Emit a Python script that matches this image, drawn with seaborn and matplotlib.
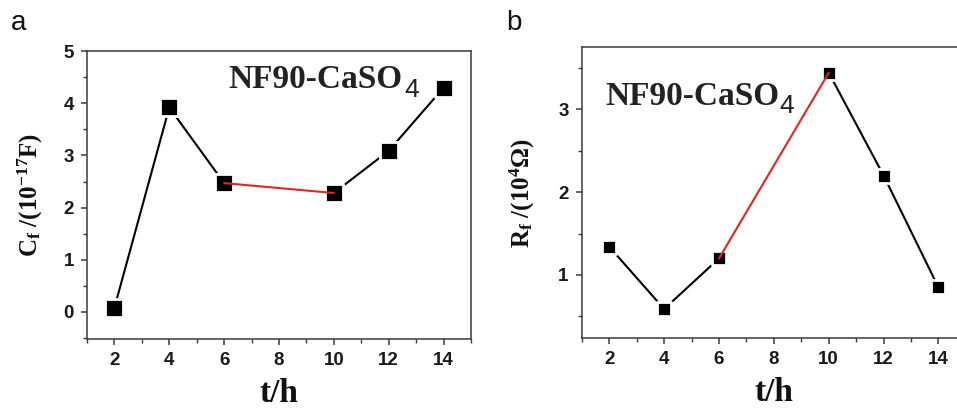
import matplotlib
matplotlib.use("Agg")
import matplotlib.pyplot as plt
import seaborn as sns
import pandas as pd
from matplotlib.ticker import MultipleLocator

# ---- data ----
hours = [2, 4, 6, 10, 12, 14]
cf_values = [0.08, 3.92, 2.47, 2.28, 3.09, 4.30]   # C_f /(10^-17 F)
rf_values = [1.34, 0.59, 1.20, 3.44, 2.20, 0.85]   # R_f /(10^4 Ohm)
x_ticks = [2, 4, 6, 8, 10, 12, 14]
sample_label = "NF90-CaSO"
red_segment = (6, 10)

sns.set_theme(style="ticks")
plt.rcParams["font.family"] = ["Liberation Sans", "DejaVu Sans"]
plt.rcParams["mathtext.fontset"] = "custom"
plt.rcParams["mathtext.rm"] = "Liberation Serif:bold"
plt.rcParams["mathtext.it"] = "Liberation Serif:bold"
plt.rcParams["mathtext.bf"] = "Liberation Serif:bold"

SPINE = "#3a3a3a"


def make_df(values):
    rows = []
    for i in range(len(hours) - 1):
        x0, x1 = hours[i], hours[i + 1]
        col = "red" if (x0, x1) == red_segment else "black"
        for x, y in ((x0, values[i]), (x1, values[i + 1])):
            rows.append({"t": x, "v": y, "seg": i, "col": col})
    return pd.DataFrame(rows)


def draw(ax, values, msize):
    df = make_df(values)
    blk = df[df.col == "black"]
    red = df[df.col == "red"]
    sns.lineplot(data=blk, x="t", y="v", units="seg", estimator=None, sort=False,
                 color="black", lw=1.5, ax=ax, legend=False, zorder=2)
    pts = pd.DataFrame({"t": hours, "v": values})
    sns.scatterplot(data=pts, x="t", y="v", marker="s", s=msize ** 2, color="black",
                    edgecolor="white", linewidth=2.0, ax=ax, legend=False, zorder=3)
    sns.lineplot(data=red, x="t", y="v", units="seg", estimator=None, sort=False,
                 color="#e8231c", lw=1.5, ax=ax, legend=False, zorder=4)
    ax.set_xlim(1, 15)
    ax.set_xticks(x_ticks)
    ax.xaxis.set_minor_locator(MultipleLocator(1))
    for s in ax.spines.values():
        s.set_color(SPINE)
        s.set_linewidth(1.1)
    ax.tick_params(which="major", direction="out", length=4.5, width=1.1, color=SPINE,
                   labelsize=13.5, pad=5)
    ax.tick_params(which="minor", direction="out", length=3, width=1.0, color=SPINE)
    ax.tick_params(top=False, right=False, which="both")
    for lab in ax.get_xticklabels() + ax.get_yticklabels():
        lab.set_fontweight("bold")
        lab.set_color("#1a1a1a")
    ax.set_xlabel("t/h", fontsize=24, fontweight="bold", family="Liberation Serif",
                  labelpad=6, color="#111111")


fig = plt.figure(figsize=(9.57, 4.16), dpi=100)
ax1 = fig.add_axes([0.0909, 0.185, 0.4013, 0.692])
ax2 = fig.add_axes([0.608, 0.1875, 0.4013, 0.6995])

draw(ax1, cf_values, 13.5)
ax1.set_ylim(-0.52, 5)
ax1.set_yticks([0, 1, 2, 3, 4, 5])
ax1.yaxis.set_minor_locator(MultipleLocator(0.5))
ax1.set_ylabel(r"C$_\mathrm{f}$ /(10$^{-17}$F)", fontsize=18, fontweight="bold",
               family="Liberation Serif", labelpad=13, color="#111111")
ax1.text(228 / 957, 1 - 88 / 416, sample_label, transform=fig.transFigure,
         family="Liberation Serif", fontweight="bold", fontsize=24, color="#222222",
         ha="left", va="baseline")
ax1.text(404 / 957, 1 - 97 / 416, "4", transform=fig.transFigure,
         family="Liberation Sans", fontsize=19, color="#222222", ha="left", va="baseline")

draw(ax2, rf_values, 10)
ax2.set_ylim(0.24, 3.75)
ax2.set_yticks([1, 2, 3])
ax2.yaxis.set_minor_locator(MultipleLocator(0.5))
ax2.set_ylabel(r"R$_\mathrm{f}$ /(10$^{4}$Ω)", fontsize=18, fontweight="bold",
               family="Liberation Serif", labelpad=15, color="#111111")
ax2.text(605 / 957, 1 - 105 / 416, sample_label, transform=fig.transFigure,
         family="Liberation Serif", fontweight="bold", fontsize=24, color="#222222",
         ha="left", va="baseline")
ax2.text(779 / 957, 1 - 113 / 416, "4", transform=fig.transFigure,
         family="Liberation Sans", fontsize=19, color="#222222", ha="left", va="baseline")

fig.text(11 / 957, 1 - 30 / 416, "a", fontsize=20, color="#111111", ha="left", va="baseline")
fig.text(506 / 957, 1 - 30 / 416, "b", fontsize=20, color="#111111", ha="left", va="baseline")

fig.savefig("out.png", dpi=100)
